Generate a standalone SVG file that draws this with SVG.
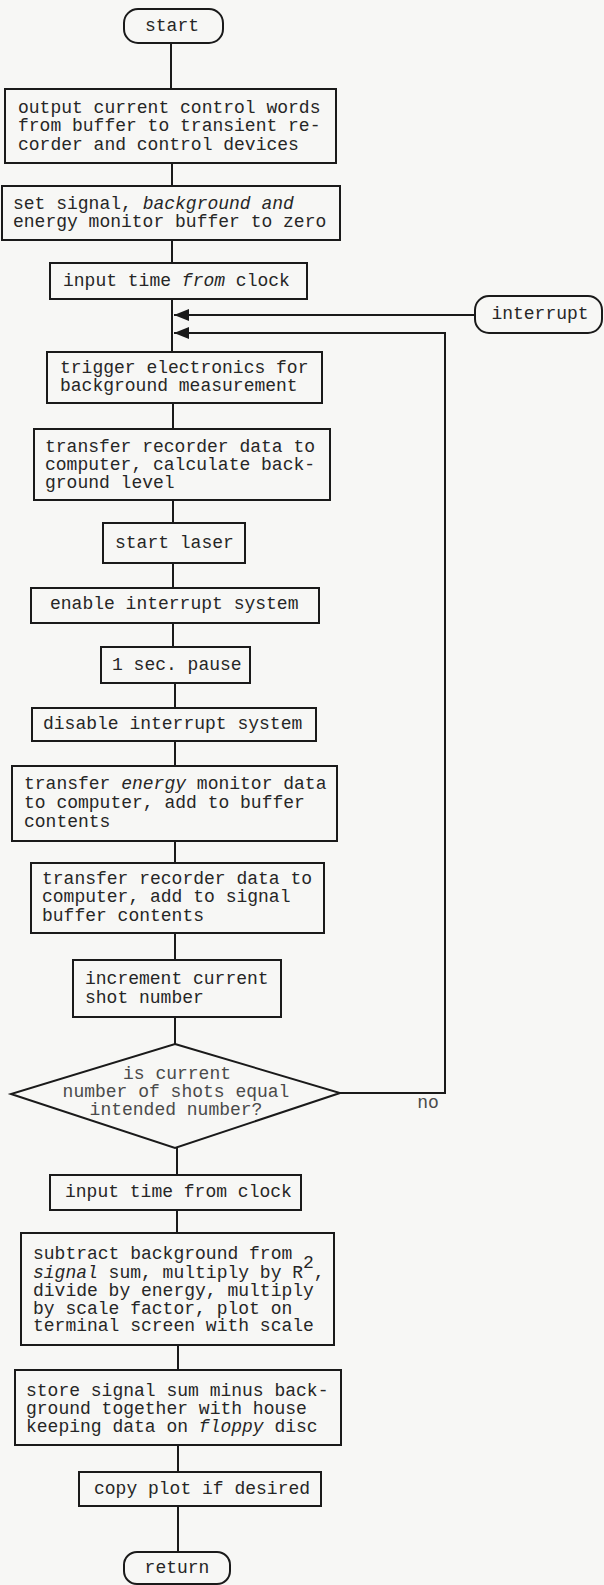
<svg xmlns="http://www.w3.org/2000/svg" width="604" height="1585" viewBox="0 0 604 1585">
<defs>
<style>
.bg{fill:#f7f7f5}
.box{fill:#f7f7f5;stroke:#1a1a1a;stroke-width:2}
.ln{fill:none;stroke:#1a1a1a;stroke-width:2}
text{font-family:"Liberation Mono","Courier New",monospace;font-size:18px;fill:#262626}
.c{text-anchor:middle}
.it{font-style:italic}
.lt{fill:#4a4a4a}
</style>
<marker id="ah" markerWidth="16" markerHeight="12" refX="15" refY="6" orient="auto" markerUnits="userSpaceOnUse"><path d="M0,0 L15,6 L0,12 Z" fill="#1a1a1a"/></marker>
</defs>
<rect class="bg" x="0" y="0" width="604" height="1585"/>
<g id="connectors">
<line class="ln" x1="171" y1="43" x2="171" y2="89"/>
<line class="ln" x1="172" y1="163" x2="172" y2="186"/>
<line class="ln" x1="172" y1="240" x2="172" y2="263"/>
<line class="ln" x1="172" y1="299" x2="172" y2="352"/>
<line class="ln" x1="475" y1="315" x2="174" y2="315" marker-end="url(#ah)"/>
<polyline class="ln" points="340,1093 445,1093 445,333 174,333" marker-end="url(#ah)"/>
<line class="ln" x1="173" y1="403" x2="173" y2="429"/>
<line class="ln" x1="173" y1="500" x2="173" y2="523"/>
<line class="ln" x1="173" y1="563" x2="173" y2="588"/>
<line class="ln" x1="173" y1="623" x2="173" y2="647"/>
<line class="ln" x1="175" y1="683" x2="175" y2="708"/>
<line class="ln" x1="175" y1="741" x2="175" y2="766"/>
<line class="ln" x1="175" y1="841" x2="175" y2="863"/>
<line class="ln" x1="175" y1="933" x2="175" y2="960"/>
<line class="ln" x1="175" y1="1017" x2="175" y2="1044"/>
<line class="ln" x1="177" y1="1148" x2="177" y2="1175"/>
<line class="ln" x1="177" y1="1210" x2="177" y2="1233"/>
<line class="ln" x1="178" y1="1345" x2="178" y2="1370"/>
<line class="ln" x1="178" y1="1445" x2="178" y2="1472"/>
<line class="ln" x1="178" y1="1506" x2="178" y2="1552"/>
<text class="c lt" x="428" y="1108">no</text>
</g>
<g id="start">
<rect class="box" x="124" y="9" width="99" height="34" rx="14"/>
<text class="c" x="172" y="31">start</text>
</g>
<g id="output-control-words">
<rect class="box" x="5" y="89" width="331" height="74"/>
<text x="18" y="113">output current control words</text>
<text x="18" y="131">from buffer to transient re-</text>
<text x="18" y="150">corder and control devices</text>
</g>
<g id="set-buffers-zero">
<rect class="box" x="2" y="186" width="338" height="54"/>
<text x="13" y="209">set signal, <tspan class="it">background and</tspan></text>
<text x="13" y="227">energy monitor buffer to zero</text>
</g>
<g id="input-time-1">
<rect class="box" x="50" y="263" width="257" height="36"/>
<text x="63" y="286">input time <tspan class="it">from</tspan> clock</text>
</g>
<g id="interrupt">
<rect class="box" x="475" y="296" width="127" height="37" rx="14"/>
<text class="c" x="540" y="319">interrupt</text>
</g>
<g id="trigger-electronics">
<rect class="box" x="47" y="352" width="275" height="51"/>
<text x="60" y="373">trigger electronics for</text>
<text x="60" y="391">background measurement</text>
</g>
<g id="transfer-background">
<rect class="box" x="34" y="429" width="296" height="71"/>
<text x="45" y="452">transfer recorder data to</text>
<text x="45" y="470">computer, calculate back-</text>
<text x="45" y="488">ground level</text>
</g>
<g id="start-laser">
<rect class="box" x="103" y="523" width="142" height="40"/>
<text x="115" y="548">start laser</text>
</g>
<g id="enable-interrupt">
<rect class="box" x="31" y="588" width="288" height="35"/>
<text x="50" y="609">enable interrupt system</text>
</g>
<g id="pause">
<rect class="box" x="101" y="647" width="149" height="36"/>
<text x="112" y="670">1 sec. pause</text>
</g>
<g id="disable-interrupt">
<rect class="box" x="32" y="708" width="284" height="33"/>
<text x="43" y="729">disable interrupt system</text>
</g>
<g id="transfer-energy">
<rect class="box" x="12" y="766" width="325" height="75"/>
<text x="24" y="789">transfer <tspan class="it">energy</tspan> monitor data</text>
<text x="24" y="808">to computer, add to buffer</text>
<text x="24" y="827">contents</text>
</g>
<g id="transfer-signal">
<rect class="box" x="31" y="863" width="293" height="70"/>
<text x="42" y="884">transfer recorder data to</text>
<text x="42" y="902">computer, add to signal</text>
<text x="42" y="921">buffer contents</text>
</g>
<g id="increment-shot">
<rect class="box" x="73" y="960" width="208" height="57"/>
<text x="85" y="984">increment current</text>
<text x="85" y="1003">shot number</text>
</g>
<g id="decision">
<polygon class="box" points="175,1044 340,1093 175,1148 11,1094"/>
<text class="c lt" x="177" y="1079">is current</text>
<text class="c lt" x="176" y="1097">number of shots equal</text>
<text class="c lt" x="176" y="1115">intended number?</text>
</g>
<g id="input-time-2">
<rect class="box" x="50" y="1175" width="251" height="35"/>
<text x="65" y="1197">input time from clock</text>
</g>
<g id="subtract-plot">
<rect class="box" x="21" y="1233" width="313" height="112"/>
<text x="33" y="1259">subtract background from</text>
<text x="33" y="1278"><tspan class="it">signal</tspan> sum, multiply by R<tspan dy="-10">2</tspan><tspan dy="10">,</tspan></text>
<text x="33" y="1296">divide by energy, multiply</text>
<text x="33" y="1314">by scale factor, plot on</text>
<text x="33" y="1331">terminal screen with scale</text>
</g>
<g id="store-floppy">
<rect class="box" x="15" y="1370" width="326" height="75"/>
<text x="26" y="1396">store signal sum minus back-</text>
<text x="26" y="1414">ground together with house</text>
<text x="26" y="1432">keeping data on <tspan class="it">floppy</tspan> disc</text>
</g>
<g id="copy-plot">
<rect class="box" x="79" y="1472" width="242" height="34"/>
<text x="94" y="1494">copy plot if desired</text>
</g>
<g id="return">
<rect class="box" x="124" y="1552" width="106" height="32" rx="13"/>
<text class="c" x="177" y="1573">return</text>
</g>
</svg>
